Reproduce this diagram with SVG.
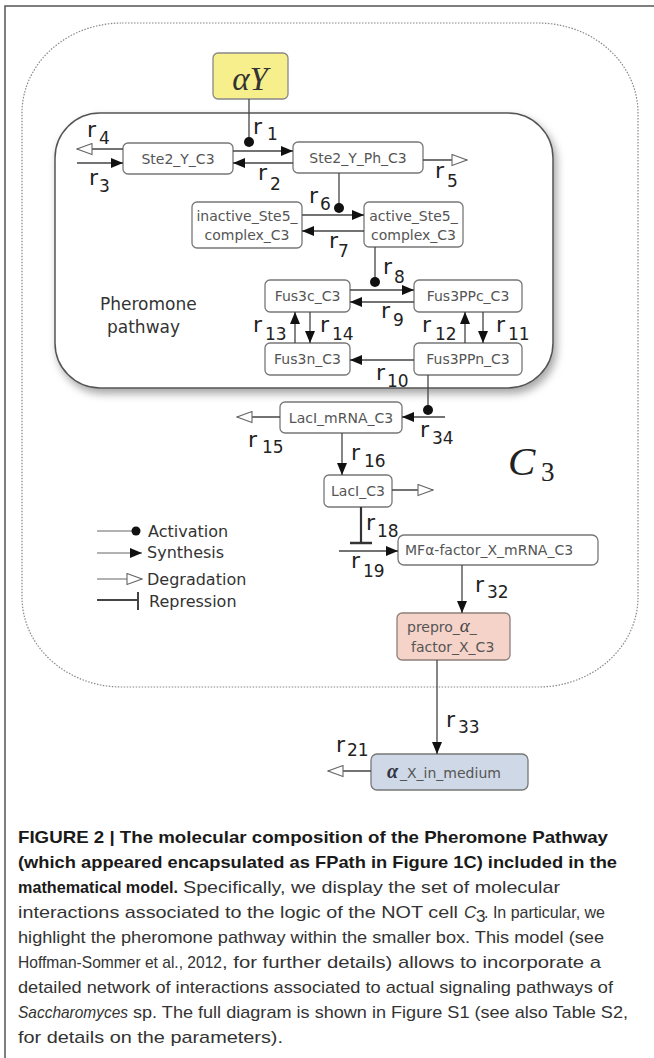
<svg xmlns="http://www.w3.org/2000/svg" width="654" height="1058" viewBox="0 0 654 1058">
<defs>
<marker id="mSyn" viewBox="0 0 12 10" refX="12" refY="5" markerWidth="12" markerHeight="10" markerUnits="userSpaceOnUse" orient="auto"><path d="M0,0 L12,5 L0,10 z" fill="#111"/></marker>
<marker id="mDeg" viewBox="0 0 17 13" refX="16" refY="6.5" markerWidth="17" markerHeight="13" markerUnits="userSpaceOnUse" orient="auto"><path d="M1,1 L16,6.5 L1,12 z" fill="#fff" stroke="#666" stroke-width="1.1"/></marker>
<filter id="sh" x="-5%" y="-5%" width="112%" height="115%"><feDropShadow dx="3" dy="5" stdDeviation="4" flood-color="#000" flood-opacity="0.35"/></filter>
</defs>
<style>
.box{fill:#fff;stroke:#777;stroke-width:1.3}
.nt{font-family:"DejaVu Sans","Liberation Sans",sans-serif;font-size:14px;fill:#555}
.ln{stroke:#444;stroke-width:1.3;fill:none}
.syn{marker-end:url(#mSyn)}
.deg{marker-end:url(#mDeg)}
.dot{fill:#111}
.rl{font-family:"DejaVu Sans","Liberation Sans",sans-serif;font-size:22px;fill:#222}
.rs{font-size:17px}
.lg{font-family:"DejaVu Sans","Liberation Sans",sans-serif;font-size:16px;fill:#333}
.cap{font-family:"Liberation Sans",Arial,sans-serif;font-size:17px;fill:#333}
.capb{font-family:"Liberation Sans",Arial,sans-serif;font-size:17px;font-weight:bold;fill:#1a1a1a}
</style>
<rect width="654" height="1058" fill="#fff"/>
<path d="M5,1058 V6 H654" fill="none" stroke="#555" stroke-width="1.5"/>

<g id="cell_C3">
<rect x="22" y="23" width="616" height="664" rx="100" ry="90" fill="none" stroke="#888" stroke-width="1.2" stroke-dasharray="1.5 1.5"/>
<text x="508" y="475" font-family="Liberation Serif,serif" font-style="italic" font-size="41" fill="#222">C</text>
<text x="541" y="481" font-family="Liberation Serif,serif" font-size="27" fill="#222">3</text>
</g>

<g id="pheromone_pathway">
<rect x="55" y="113" width="498" height="275" rx="45" ry="45" fill="#fff" stroke="#555" stroke-width="1.5" filter="url(#sh)"/>
<text x="100" y="310" font-family="DejaVu Sans,sans-serif" font-size="17" fill="#333">Pheromone</text>
<text x="107" y="333" font-family="DejaVu Sans,sans-serif" font-size="17" fill="#333">pathway</text>
</g>

<g id="alphaY">
<rect x="213" y="53" width="75" height="46" rx="5" fill="#f6ef8c" stroke="#888" stroke-width="1.3"/>
<text x="250" y="90" text-anchor="middle" font-family="Liberation Serif,serif" font-style="italic" font-size="33" fill="#333">αY</text>
</g>
<g id="Ste2_Y_C3"><rect class="box" x="123" y="143" width="110" height="31" rx="5"/><text class="nt" x="178" y="164" text-anchor="middle">Ste2_Y_C3</text></g>
<g id="Ste2_Y_Ph_C3"><rect class="box" x="293" y="142" width="130" height="31" rx="5"/><text class="nt" x="358" y="163" text-anchor="middle">Ste2_Y_Ph_C3</text></g>
<g id="inactive_Ste5"><rect class="box" x="192" y="202" width="110" height="46" rx="5"/><text class="nt" x="247" y="221" text-anchor="middle">inactive_Ste5_</text><text class="nt" x="247" y="240" text-anchor="middle">complex_C3</text></g>
<g id="active_Ste5"><rect class="box" x="364" y="202" width="99" height="45" rx="5"/><text class="nt" x="413.5" y="221" text-anchor="middle">active_Ste5_</text><text class="nt" x="413.5" y="240" text-anchor="middle">complex_C3</text></g>
<g id="Fus3c_C3"><rect class="box" x="265" y="280" width="85" height="32" rx="5"/><text class="nt" x="307.5" y="301" text-anchor="middle">Fus3c_C3</text></g>
<g id="Fus3PPc_C3"><rect class="box" x="414" y="280" width="108" height="32" rx="5"/><text class="nt" x="468" y="301" text-anchor="middle">Fus3PPc_C3</text></g>
<g id="Fus3n_C3"><rect class="box" x="265" y="343" width="85" height="32" rx="5"/><text class="nt" x="307.5" y="364" text-anchor="middle">Fus3n_C3</text></g>
<g id="Fus3PPn_C3"><rect class="box" x="414" y="343" width="108" height="32" rx="5"/><text class="nt" x="468" y="364" text-anchor="middle">Fus3PPn_C3</text></g>
<g id="LacI_mRNA_C3"><rect class="box" x="280" y="402" width="122" height="31" rx="5"/><text class="nt" x="341" y="423" text-anchor="middle">LacI_mRNA_C3</text></g>
<g id="LacI_C3"><rect class="box" x="324" y="475" width="68" height="32" rx="5"/><text class="nt" x="358" y="496" text-anchor="middle">LacI_C3</text></g>
<g id="MFa_mRNA_C3"><rect class="box" x="398" y="535" width="200" height="30" rx="6"/><text class="nt" x="405" y="555">MFα-factor_X_mRNA_C3</text></g>
<g id="prepro_alpha"><rect x="397" y="613" width="113" height="47" rx="5" fill="#f5d3c9" stroke="#8e7f7a" stroke-width="1.3"/><text class="nt" x="407" y="632">prepro_<tspan font-family="Liberation Serif,serif" font-style="italic" font-size="19" fill="#444">α</tspan>_</text><text class="nt" x="411" y="652">factor_X_C3</text></g>
<g id="alpha_X_in_medium"><rect x="371" y="754" width="157" height="36" rx="6" fill="#cfd8e6" stroke="#777" stroke-width="1.3"/><text x="387" y="778" font-family="Liberation Serif,serif" font-style="italic" font-weight="bold" font-size="20" fill="#334">α</text><text class="nt" x="400" y="778">_X_in_medium</text></g>

<g id="connectors">
<line class="ln" x1="249" y1="99" x2="249" y2="140"/><circle class="dot" cx="249" cy="142" r="5"/>
<line class="ln syn" x1="233" y1="151" x2="293" y2="151"/>
<line class="ln syn" x1="293" y1="163" x2="233" y2="163"/>
<line class="ln syn" x1="77" y1="163" x2="123" y2="163"/>
<line class="ln deg" x1="123" y1="149" x2="77" y2="149"/>
<line class="ln deg" x1="423" y1="160" x2="467" y2="160"/>
<line class="ln" x1="339" y1="173" x2="339" y2="206"/><circle class="dot" cx="339" cy="208" r="5"/>
<line class="ln syn" x1="302" y1="215" x2="364" y2="215"/>
<line class="ln syn" x1="364" y1="231" x2="302" y2="231"/>
<line class="ln" x1="375" y1="247" x2="375" y2="280"/><circle class="dot" cx="375" cy="282" r="5"/>
<line class="ln syn" x1="350" y1="290" x2="414" y2="290"/>
<line class="ln syn" x1="414" y1="302" x2="350" y2="302"/>
<line class="ln syn" x1="295" y1="343" x2="295" y2="312"/>
<line class="ln syn" x1="310" y1="312" x2="310" y2="343"/>
<line class="ln syn" x1="465" y1="343" x2="465" y2="312"/>
<line class="ln syn" x1="483" y1="312" x2="483" y2="343"/>
<line class="ln syn" x1="414" y1="360" x2="350" y2="360"/>
<line class="ln" x1="428" y1="375" x2="428" y2="408"/><circle class="dot" cx="428" cy="410" r="5"/>
<line class="ln syn" x1="445" y1="417" x2="402" y2="417"/>
<line class="ln deg" x1="280" y1="417" x2="237" y2="417"/>
<line class="ln syn" x1="342" y1="433" x2="342" y2="475"/>
<line class="ln deg" x1="392" y1="490" x2="433" y2="490"/>
<line x1="361" y1="507" x2="361" y2="543" stroke="#333" stroke-width="2.2"/>
<line x1="350" y1="543" x2="372" y2="543" stroke="#333" stroke-width="2.5"/>
<line class="ln syn" x1="339" y1="551" x2="398" y2="551"/>
<line class="ln syn" x1="462" y1="565" x2="462" y2="613"/>
<line class="ln syn" x1="437" y1="660" x2="437" y2="754"/>
<line class="ln deg" x1="371" y1="771" x2="328" y2="771"/>
</g>

<g id="reaction_labels">
<text class="rl" x="253" y="134">r<tspan class="rs" x="267" y="140">1</tspan></text>
<text class="rl" x="87" y="137">r<tspan class="rs" x="99" y="144">4</tspan></text>
<text class="rl" x="89" y="185">r<tspan class="rs" x="99" y="192">3</tspan></text>
<text class="rl" x="258" y="180">r<tspan class="rs" x="270" y="190">2</tspan></text>
<text class="rl" x="435" y="178">r<tspan class="rs" x="447" y="187">5</tspan></text>
<text class="rl" x="309" y="203">r<tspan class="rs" x="320" y="210">6</tspan></text>
<text class="rl" x="329" y="248">r<tspan class="rs" x="338" y="257">7</tspan></text>
<text class="rl" x="383" y="274">r<tspan class="rs" x="394" y="283">8</tspan></text>
<text class="rl" x="381" y="318">r<tspan class="rs" x="393" y="326">9</tspan></text>
<text class="rl" x="253" y="332">r<tspan class="rs" x="265" y="340">13</tspan></text>
<text class="rl" x="320" y="332">r<tspan class="rs" x="332" y="340">14</tspan></text>
<text class="rl" x="422" y="332">r<tspan class="rs" x="435" y="340">12</tspan></text>
<text class="rl" x="496" y="332">r<tspan class="rs" x="508" y="340">11</tspan></text>
<text class="rl" x="376" y="380">r<tspan class="rs" x="387" y="387">10</tspan></text>
<text class="rl" x="248" y="447">r<tspan class="rs" x="262" y="453">15</tspan></text>
<text class="rl" x="420" y="437">r<tspan class="rs" x="432" y="444">34</tspan></text>
<text class="rl" x="351" y="460">r<tspan class="rs" x="364" y="467">16</tspan></text>
<text class="rl" x="366" y="530">r<tspan class="rs" x="377" y="537">18</tspan></text>
<text class="rl" x="351" y="568">r<tspan class="rs" x="363" y="577">19</tspan></text>
<text class="rl" x="475" y="592">r<tspan class="rs" x="487" y="598">32</tspan></text>
<text class="rl" x="446" y="727">r<tspan class="rs" x="458" y="733">33</tspan></text>
<text class="rl" x="336" y="752">r<tspan class="rs" x="347" y="756">21</tspan></text>
</g>

<g id="legend">
<line x1="97" y1="531" x2="132" y2="531" stroke="#999" stroke-width="1.3"/><circle cx="136" cy="531" r="4.5" fill="#111"/>
<text class="lg" x="148" y="537">Activation</text>
<line x1="97" y1="553" x2="142" y2="553" stroke="#999" stroke-width="1.3" marker-end="url(#mSyn)"/>
<text class="lg" x="147" y="558">Synthesis</text>
<line x1="97" y1="579" x2="142" y2="579" stroke="#999" stroke-width="1.3" marker-end="url(#mDeg)"/>
<text class="lg" x="147" y="585">Degradation</text>
<line x1="97" y1="600" x2="138" y2="600" stroke="#444" stroke-width="2"/><line x1="138" y1="592" x2="138" y2="610" stroke="#444" stroke-width="2"/>
<text class="lg" x="149" y="607">Repression</text>
</g>

<g id="caption">
<text class="capb" x="18" y="843" textLength="590" lengthAdjust="spacingAndGlyphs">FIGURE 2 | The molecular composition of the Pheromone Pathway</text>
<text class="capb" x="18" y="868" textLength="599" lengthAdjust="spacingAndGlyphs">(which appeared encapsulated as FPath in Figure 1C) included in the</text>
<text class="capb" x="18" y="893" textLength="160" lengthAdjust="spacingAndGlyphs">mathematical model.</text>
<text class="cap" x="183" y="893" textLength="377" lengthAdjust="spacingAndGlyphs">Specifically, we display the set of molecular</text>
<text class="cap" x="18" y="918" textLength="440" lengthAdjust="spacingAndGlyphs">interactions associated to the logic of the NOT cell</text>
<text class="cap" x="464" y="918" font-style="italic">C</text>
<text class="cap" x="476" y="922" font-size="12">3</text>
<text class="cap" x="484" y="918" textLength="121" lengthAdjust="spacingAndGlyphs">. In particular, we</text>
<text class="cap" x="18" y="943" textLength="586" lengthAdjust="spacingAndGlyphs">highlight the pheromone pathway within the smaller box. This model (see</text>
<text class="cap" x="18" y="968" textLength="204" lengthAdjust="spacingAndGlyphs" fill="#8a8a8a">Hoffman-Sommer et al., 2012</text>
<text class="cap" x="222" y="968" textLength="379" lengthAdjust="spacingAndGlyphs">, for further details) allows to incorporate a</text>
<text class="cap" x="18" y="993" textLength="595" lengthAdjust="spacingAndGlyphs">detailed network of interactions associated to actual signaling pathways of</text>
<text class="cap" x="18" y="1018" textLength="110" lengthAdjust="spacingAndGlyphs" font-style="italic">Saccharomyces</text>
<text class="cap" x="133" y="1018" textLength="495" lengthAdjust="spacingAndGlyphs">sp. The full diagram is shown in Figure S1 (see also Table S2,</text>
<text class="cap" x="18" y="1043" textLength="265" lengthAdjust="spacingAndGlyphs">for details on the parameters).</text>
</g>
</svg>
